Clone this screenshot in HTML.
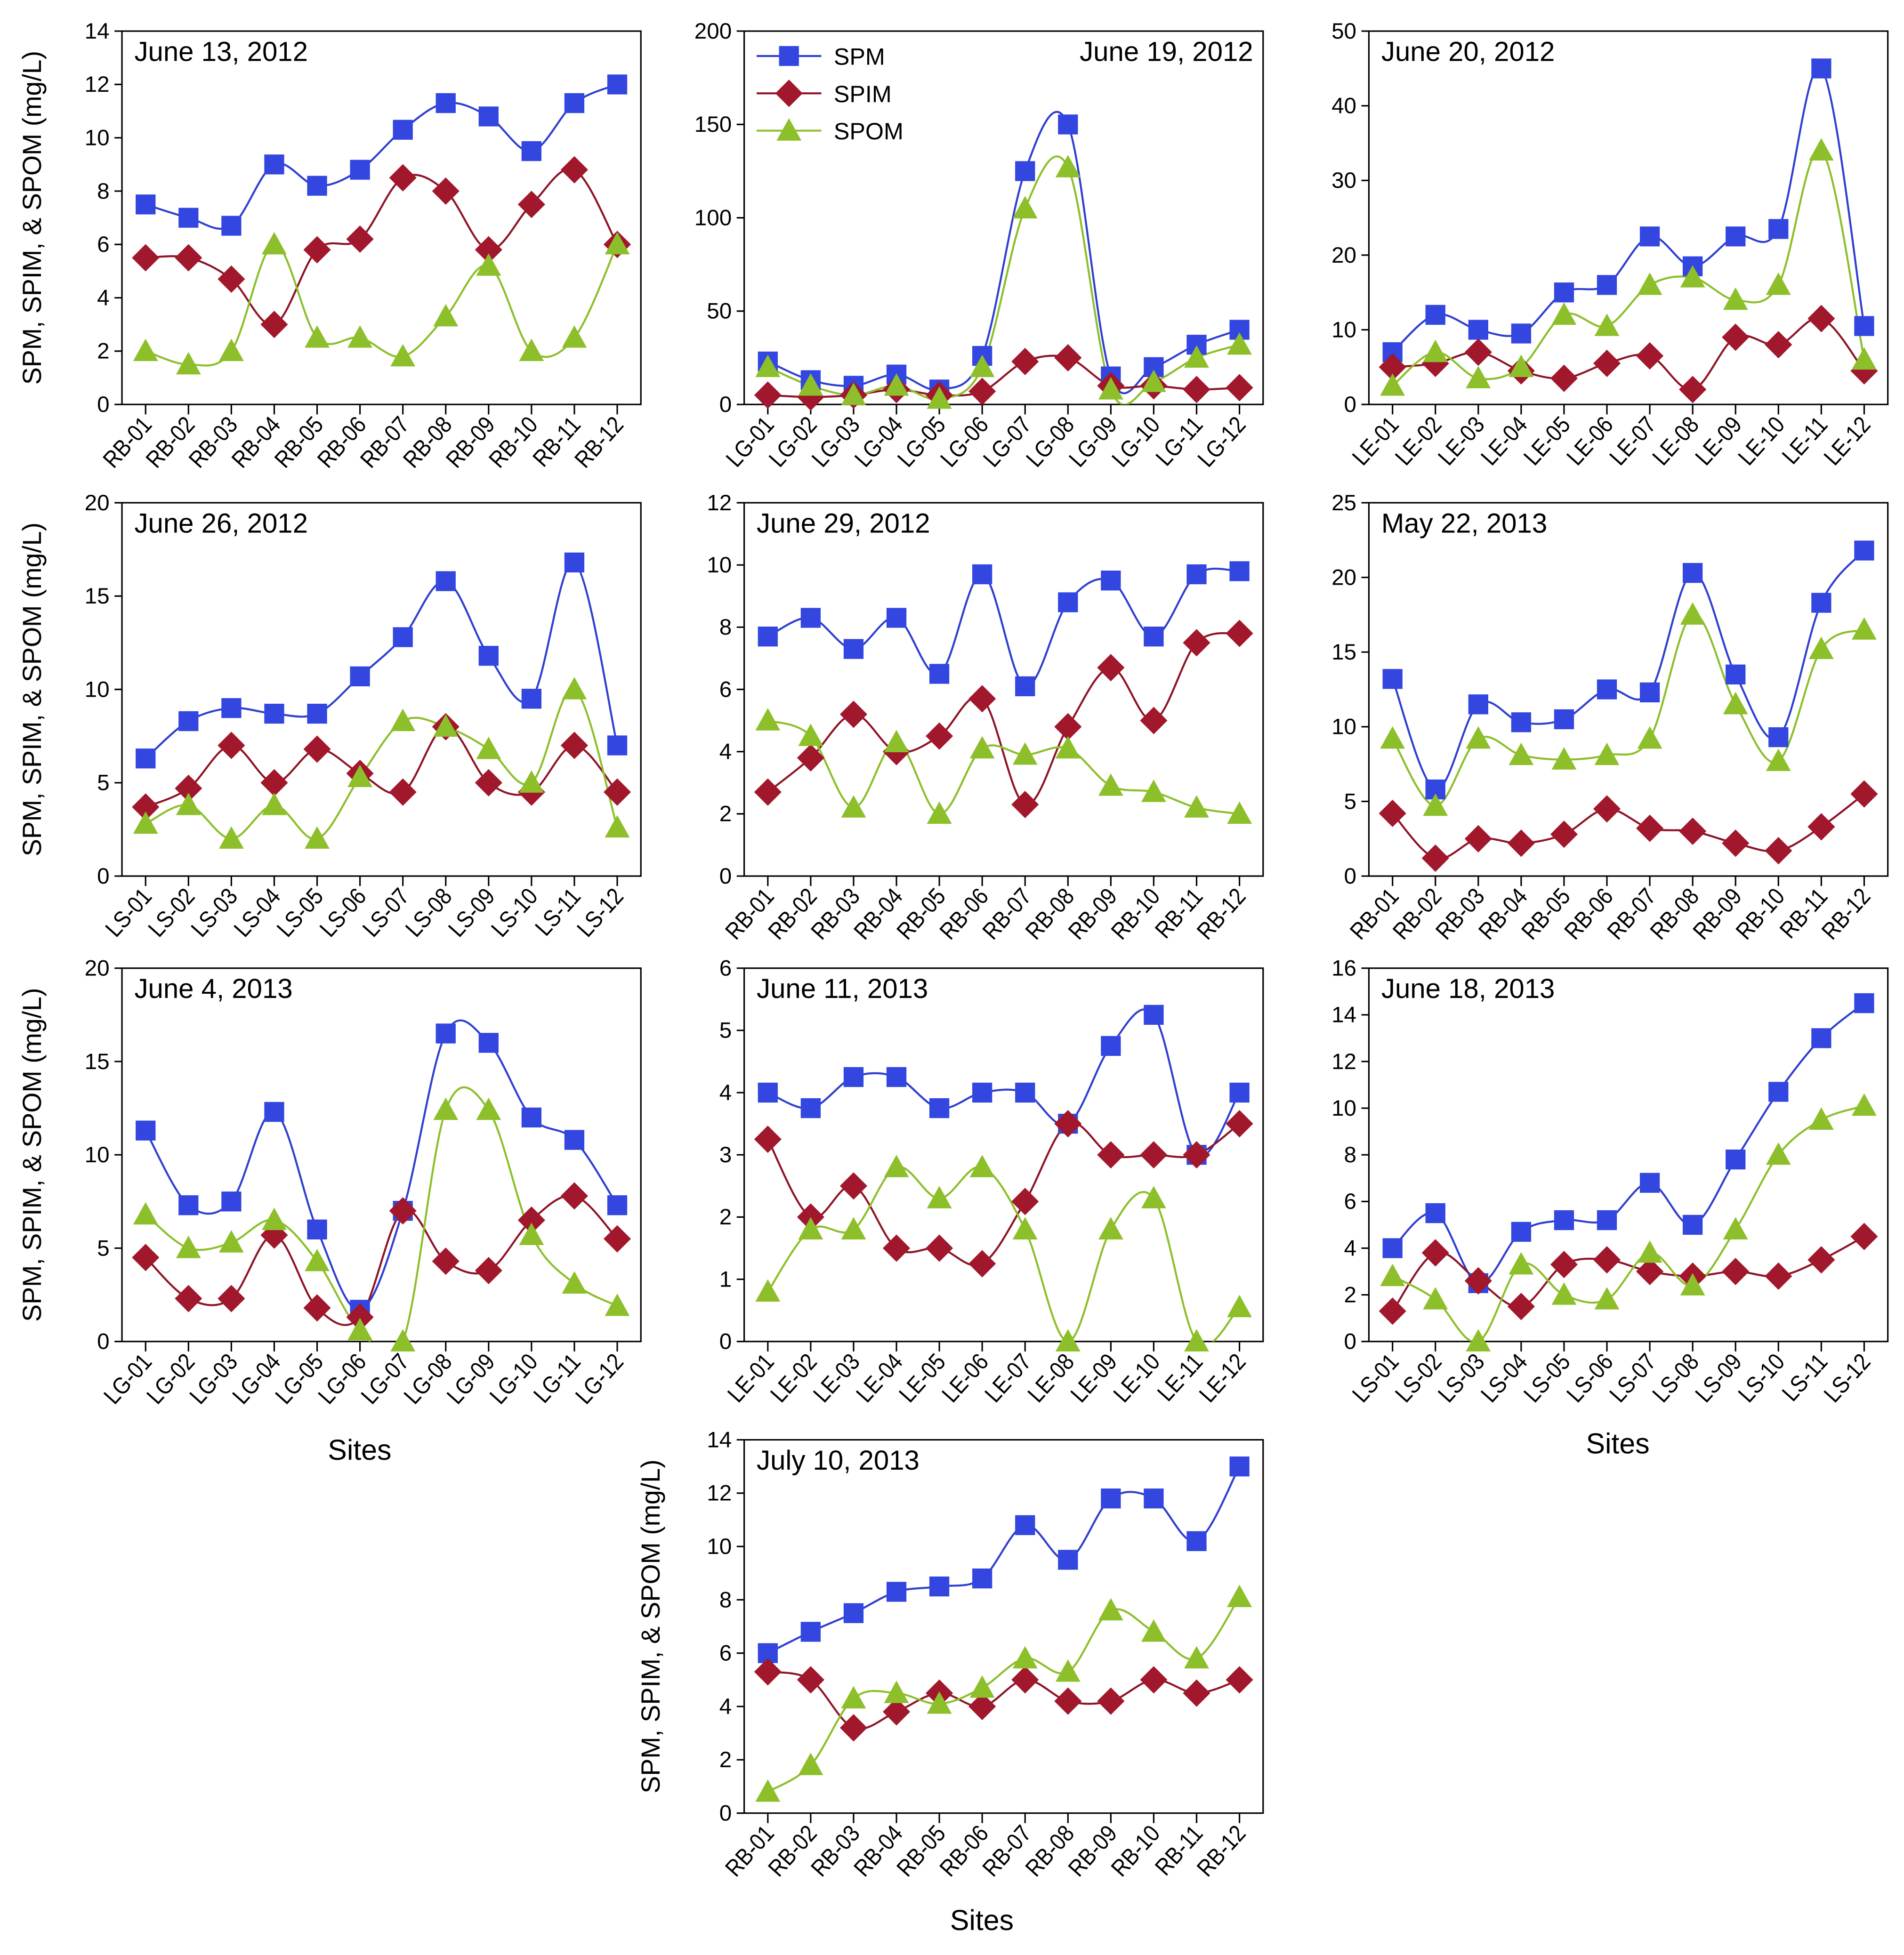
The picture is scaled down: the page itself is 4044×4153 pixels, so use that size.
<!DOCTYPE html>
<html><head><meta charset="utf-8">
<style>
html,body{margin:0;padding:0;background:#fff;}
svg{display:block;font-family:"Liberation Sans",Calibri,sans-serif;}
</style></head>
<body>
<svg id="fig" width="4044" height="4153" viewBox="0 0 1530 1571" preserveAspectRatio="none" xmlns="http://www.w3.org/2000/svg"></svg>
<script>
const titles = ["June 13, 2012","June 19, 2012","June 20, 2012","June 26, 2012","June 29, 2012","May 22, 2013","June 4, 2013","June 11, 2013","June 18, 2013","July 10, 2013"];
const prefixes = ["RB","LG","LE","LS","RB","RB","LG","LE","LS","RB"];
const yMaxes = [14,200,50,20,12,25,20,6,16,14];
const ySteps = [2,50,10,5,2,5,5,1,2,2];
const spm = [
[7.5,7,6.7,9,8.2,8.8,10.3,11.3,10.8,9.5,11.3,12],
[23,13,10,16,8,26,125,150,15,20,32,40],
[7,12,10,9.5,15,16,22.5,18.5,22.5,23.5,45,10.5],
[6.3,8.3,9,8.7,8.7,10.7,12.8,15.8,11.8,9.5,16.8,7],
[7.7,8.3,7.3,8.3,6.5,9.7,6.1,8.8,9.5,7.7,9.7,9.8],
[13.2,5.8,11.5,10.3,10.5,12.5,12.3,20.3,13.5,9.3,18.3,21.8],
[11.3,7.3,7.5,12.3,6,1.7,7,16.5,16,12,10.8,7.3],
[4,3.75,4.25,4.25,3.75,4,4,3.5,4.75,5.25,3,4],
[4,5.5,2.5,4.7,5.2,5.2,6.8,5,7.8,10.7,13,14.5],
[6,6.8,7.5,8.3,8.5,8.8,10.8,9.5,11.8,11.8,10.2,13]];
const spim = [
[5.5,5.5,4.7,3,5.8,6.2,8.5,8,5.8,7.5,8.8,6],
[5,4,5,8,5,7,23,25,10,10,8,9],
[5,5.5,7,4.5,3.5,5.5,6.5,2,9,8,11.5,4.5],
[3.7,4.7,7,5,6.8,5.5,4.5,8,5,4.5,7,4.5],
[2.7,3.8,5.2,4,4.5,5.7,2.3,4.8,6.7,5,7.5,7.8],
[4.2,1.2,2.5,2.2,2.8,4.5,3.2,3,2.2,1.7,3.3,5.5],
[4.5,2.3,2.3,5.7,1.8,1.3,7,4.3,3.8,6.5,7.8,5.5],
[3.25,2,2.5,1.5,1.5,1.25,2.25,3.5,3,3,3,3.5],
[1.3,3.8,2.6,1.5,3.3,3.5,3,2.8,3,2.8,3.5,4.5],
[5.3,5,3.2,3.8,4.5,4,5,4.2,4.2,5,4.5,5]];
const spom = [
[2,1.5,2,6,2.5,2.5,1.8,3.3,5.2,2,2.5,6],
[20,10,5,10,3,20,105,127,8,12,25,32],
[2.5,7,3.5,5,12,10.5,16,17,14,16,34,6],
[2.8,3.8,2,3.8,2,5.3,8.3,8,6.8,5,10,2.6],
[5,4.5,2.2,4.3,2,4.1,3.9,4.1,2.9,2.7,2.2,2],
[9.2,4.7,9.2,8.1,7.8,8.1,9.2,17.5,11.5,7.7,15.2,16.5],
[6.8,5,5.3,6.5,4.3,0.6,0,12.4,12.4,5.7,3.1,1.9],
[0.8,1.8,1.8,2.8,2.3,2.8,1.8,0,1.8,2.3,0,0.55],
[2.8,1.8,0,3.3,2,1.8,3.8,2.4,4.8,8,9.5,10.1],
[0.8,1.8,4.3,4.5,4.1,4.7,5.8,5.3,7.6,6.8,5.8,8.1]];
const seriesNames = ["SPM","SPIM","SPOM"];

const NS="http://www.w3.org/2000/svg";
const svg=document.getElementById('fig');
function mk(tag,attrs,parent){const e=document.createElementNS(NS,tag);for(const k in attrs)e.setAttribute(k,attrs[k]);(parent||svg).appendChild(e);return e;}
const panels=[[98,25],[598,25],[1100,25],[98,404],[598,404],[1100,404],[98,778],[598,778],[1100,778],[598,1157]];
const W=417,H=300,PAD=19;
const colors=["#3346e0","#a1172c","#8cbf2a"];
const lineCols=["#2f3fd0","#8e1426","#8cbf2a"];
function spline(pts){
  let d=`M${pts[0][0]},${pts[0][1]}`;
  for(let i=0;i<pts.length-1;i++){
    const p0=pts[Math.max(0,i-1)],p1=pts[i],p2=pts[i+1],p3=pts[Math.min(pts.length-1,i+2)];
    const c1x=p1[0]+(p2[0]-p0[0])/6,c1y=p1[1]+(p2[1]-p0[1])/6;
    const c2x=p2[0]-(p3[0]-p1[0])/6,c2y=p2[1]-(p3[1]-p1[1])/6;
    d+=` C${c1x},${c1y} ${c2x},${c2y} ${p2[0]},${p2[1]}`;
  }
  return d;
}
function marker(g,k,x,y){
  let e;
  if(k===0){e=mk('rect',{x:x-8,y:y-8,width:16,height:16,fill:colors[0]},g);}
  else if(k===1){e=mk('polygon',{points:`${x},${y-11} ${x+11},${y} ${x},${y+11} ${x-11},${y}`,fill:colors[1]},g);}
  else {e=mk('polygon',{points:`${x},${y-10} ${x+10},${y+8} ${x-10},${y+8}`,fill:colors[2]},g);}
  return e;
}
panels.forEach((p,pi)=>{
  const [L,T]=p;
  const g=mk('g',{});
  
  
  const ymax=yMaxes[pi],step=ySteps[pi];
  const xs=i=>L+PAD+i*(W-2*PAD)/11;
  const ys=v=>T+H-v/ymax*H;
  const cp=mk('clipPath',{id:'c'+pi},g);mk('rect',{x:L,y:T,width:W,height:H},cp);
  const frame=mk('rect',{x:L,y:T,width:W,height:H,fill:'none',stroke:'#000','stroke-width':1.2},g);
  
  
  for(let v=0;v<=ymax+1e-9;v+=step){
    const y=ys(v);
    mk('line',{x1:L-6,x2:L,y1:y,y2:y,stroke:'#000','stroke-width':1.2},g);
    const t=mk('text',{x:L-10,y:y+6,'text-anchor':'end','font-size':18},g);
    t.textContent=v;
    
    
  }
  for(let i=0;i<12;i++){
    const x=xs(i);
    mk('line',{x1:x,x2:x,y1:T+H,y2:T+H+8,stroke:'#000','stroke-width':1.2},g);
    const ax=x+6, ay=T+H+17;
    const t=mk('text',{x:0,y:0,'text-anchor':'end','font-size':19,transform:`translate(${ax} ${ay}) rotate(-48) scale(0.88 1)`},g);
    t.textContent=prefixes[pi]+'-'+String(i+1).padStart(2,'0');
    
    
  }
  [spm,spim,spom].forEach((arr,k)=>{
    const pts=arr[pi].map((v,i)=>[xs(i),ys(v)]);
    const path=mk('path',{d:spline(pts),fill:'none',stroke:lineCols[k],'stroke-width':1.6,'clip-path':`url(#c${pi})`},g);
    
    
  });
  [spm,spim,spom].forEach((arr,k)=>{
    arr[pi].forEach((v,i)=>{
      const m=marker(g,k,xs(i),ys(v));
      
      
    });
  });
  const right=(pi===1);
  const tt=mk('text',{x:right?L+W-8:L+10,y:T+24,'text-anchor':right?'end':'start','font-size':22},g);
  tt.textContent=titles[pi];
  
  
  if(pi===1){
    seriesNames.forEach((n,k)=>{
      const y=T+20+k*30;
      const lg=mk('g',{},g);
      
      
      mk('line',{x1:L+10,x2:L+62,y1:y,y2:y,stroke:lineCols[k],'stroke-width':1.6},lg);
      marker(lg,k,L+36,y);
      const lt=mk('text',{x:L+72,y:y+7,'font-size':19},lg);lt.textContent=n;
    });
  }
  if(p[0]===98||pi===9){
    const ax=(pi===9)?530:33, ay=T+H/2;
    const yt=mk('text',{x:ax,y:ay,'text-anchor':'middle','font-size':21,transform:`rotate(-90 ${ax} ${ay})`},g);
    yt.textContent='SPM, SPIM, & SPOM (mg/L)';
    
    
  }
});
[[289,1173],[1300,1168],[789,1551]].forEach(([x,y])=>{
  const t=mk('text',{x:x,y:y,'text-anchor':'middle','font-size':23});
  t.textContent='Sites';
  
  
});
</script>
</body></html>
